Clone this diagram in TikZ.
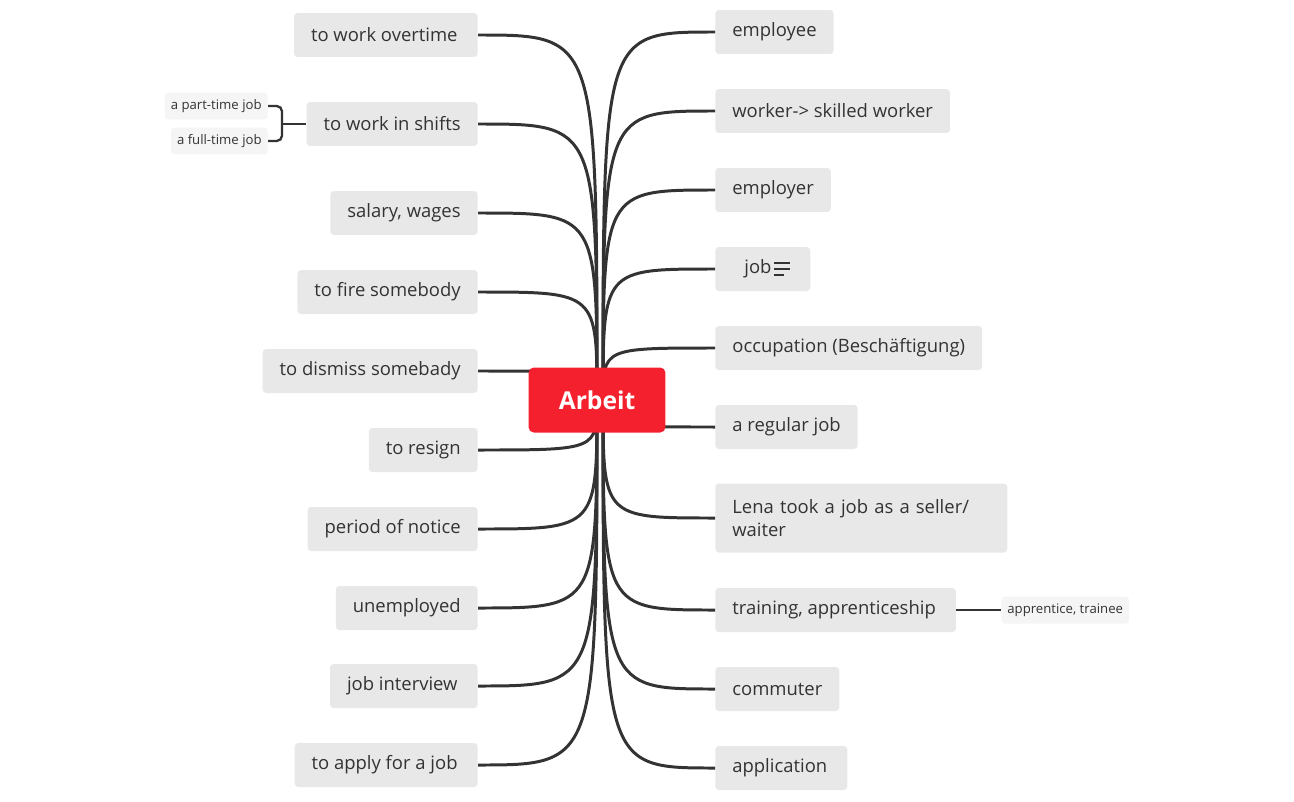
\documentclass[tikz,border=0pt]{standalone}
\usepackage{fontspec}
\setmainfont{Open Sans}
\usetikzlibrary{arrows,calc,positioning,shapes}
\definecolor{topicgray}{HTML}{E8E8E8}
\definecolor{subgray}{HTML}{F5F5F5}
\definecolor{linegray}{HTML}{333333}
\definecolor{mainred}{HTML}{F5202E}
\begin{document}
\begin{tikzpicture}[x=0.02cm,y=-0.02cm]
	\tikzstyle{topic} = [fill=topicgray, rounded corners=2pt, minimum height=0.88cm, inner xsep=0.34cm, text=linegray, font=\fontsize{10.5}{13}\selectfont]
	\tikzstyle{sub} = [fill=subgray, rounded corners=2pt, minimum height=0.54cm, inner xsep=0.12cm, text=linegray, font=\fontsize{7.5}{9}\selectfont]
	\tikzstyle{branch} = [draw=linegray, line width=1.7pt]
	\useasboundingbox (0,0) rectangle (1294,801);
	
	% left side
	\node [topic, anchor=east] (overtime) at (478,35) {to work overtime\,};
	\node [topic, anchor=east] (shifts) at (478,124) {to work in shifts};
	\node [topic, anchor=east] (salary) at (478,213) {salary, wages};
	\node [topic, anchor=east] (fire) at (478,292) {to fire somebody};
	\node [topic, anchor=east] (dismiss) at (478,371) {to dismiss somebady};
	\node [topic, anchor=east] (resign) at (478,450) {to resign};
	\node [topic, anchor=east] (notice) at (478,529) {period of notice};
	\node [topic, anchor=east] (unemployed) at (478,608) {unemployed};
	\node [topic, anchor=east] (interview) at (478,686) {job interview\,};
	\node [topic, anchor=east] (apply) at (478,765) {to apply for a job\,};
	
	% right side
	\node [topic, anchor=west] (employee) at (715,32) {employee};
	\node [topic, anchor=west] (worker) at (715,111) {worker-> skilled worker};
	\node [topic, anchor=west] (employer) at (715,190) {employer};
	\node [topic, anchor=west, minimum width=1.9cm, align=left, text width=0.74cm] (job) at (715,269) {job};
	\node [topic, anchor=west] (occupation) at (715,348) {occupation (Beschäftigung)};
	\node [topic, anchor=west] (regular) at (715,427) {a regular job};
	\node [topic, anchor=west, text width=5.16cm, minimum height=1.38cm, align=left] (lena) at (715,518) {Lena took a job as a seller/\\waiter};
	\node [topic, anchor=west] (training) at (715,610) {training, apprenticeship\,};
	\node [topic, anchor=west] (commuter) at (715,689) {commuter};
	\node [topic, anchor=west] (application) at (715,768) {application\,};
	
	% job icon
	\draw [linegray, line width=0.9pt] (774,263) -- (790,263) (774,269) -- (790,269) (774,275) -- (784,275);
	
	% sub topics
	\node [sub, anchor=east] (parttime) at (268,106) {a part-time job};
	\node [sub, anchor=east] (fulltime) at (268,141) {a full-time job};
	\node [sub, anchor=west] (trainee) at (1001,610) {apprentice, trainee};
	\draw [branch, line width=1.3pt, rounded corners=3pt] (parttime.east) -- (282,106) -- (282,141) -- (fulltime.east);
	\draw [branch, line width=1.3pt] (282,124) -- (shifts.west);
	\draw [branch, line width=1.3pt] (training.east) -- (trainee.west);
	
	% branches
	\coordinate (cl) at (597,400);
	\coordinate (cr) at (603,400);
	\draw [branch] (cl) .. controls (cl |- overtime.east) .. (overtime.east);
	\draw [branch] (cl) .. controls (cl |- shifts.east) .. (shifts.east);
	\draw [branch] (cl) .. controls (cl |- salary.east) .. (salary.east);
	\draw [branch] (cl) .. controls (cl |- fire.east) .. (fire.east);
	\draw [branch] (cl) .. controls (cl |- dismiss.east) .. (dismiss.east);
	\draw [branch] (cl) .. controls (cl |- resign.east) .. (resign.east);
	\draw [branch] (cl) .. controls (cl |- notice.east) .. (notice.east);
	\draw [branch] (cl) .. controls (cl |- unemployed.east) .. (unemployed.east);
	\draw [branch] (cl) .. controls (cl |- interview.east) .. (interview.east);
	\draw [branch] (cl) .. controls (cl |- apply.east) .. (apply.east);
	\draw [branch] (cr) .. controls (cr |- employee.west) .. (employee.west);
	\draw [branch] (cr) .. controls (cr |- worker.west) .. (worker.west);
	\draw [branch] (cr) .. controls (cr |- employer.west) .. (employer.west);
	\draw [branch] (cr) .. controls (cr |- job.west) .. (job.west);
	\draw [branch] (cr) .. controls (cr |- occupation.west) .. (occupation.west);
	\draw [branch] (cr) .. controls (cr |- regular.west) .. (regular.west);
	\draw [branch] (cr) .. controls (cr |- lena.west) .. (lena.west);
	\draw [branch] (cr) .. controls (cr |- training.west) .. (training.west);
	\draw [branch] (cr) .. controls (cr |- commuter.west) .. (commuter.west);
	\draw [branch] (cr) .. controls (cr |- application.west) .. (application.west);
	
	\node [fill=mainred, rounded corners=3pt, minimum width=2.74cm, minimum height=1.3cm, text=white, font=\fontsize{14}{16}\selectfont\bfseries] (arbeit) at (597,400) {Arbeit};
\end{tikzpicture}
\end{document}
